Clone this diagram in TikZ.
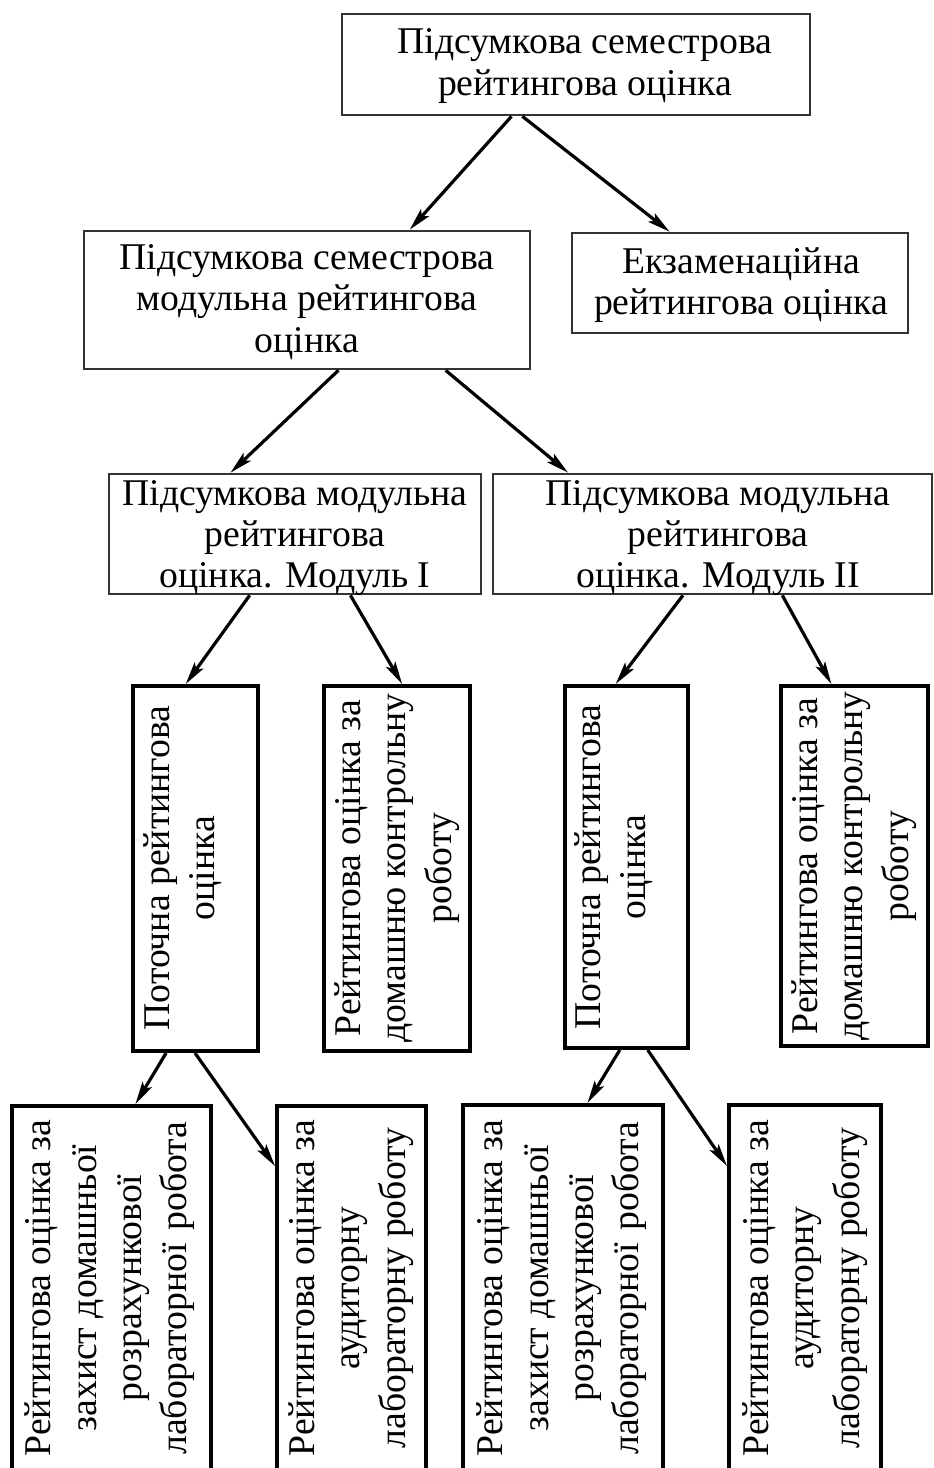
\documentclass[tikz,border=0pt]{standalone}
\usepackage{fontspec}
\setmainfont{Liberation Serif}
\usetikzlibrary{arrows.meta,fit,calc}
\begin{document}
\begin{tikzpicture}[x=0.75pt,y=-0.75pt,
  hbox/.style={draw=black!80, line width=2pt, inner sep=0pt},
  htext/.style={align=center, inner sep=0pt, font=\fontsize{28.3}{31}\selectfont},
  vbox/.style={draw=black, line width=3pt, inner sep=0pt},
  vtext/.style={rotate=90, align=center, inner sep=0pt,
    font=\fontsize{28.3}{34}\selectfont},
  arr/.style={line width=2.4pt, -{Stealth[length=17pt,width=8pt,inset=3.5pt]}}
]
\useasboundingbox (0,0) rectangle (934,1468);
\clip (0,0) rectangle (934,1468);
\fill[white] (0,0) rectangle (934,1468);

% level 1-3
\node[hbox, fit={(342,14) (810,115)}] (top) {};
\node[htext] (topt) at (585,66) {Підсумкова семестрова\\рейтингова оцінка};
\node[hbox, fit={(84,231) (530,369)}] (sem) {};
\node[htext] (semt) at (307,302) {Підсумкова семестрова\\модульна рейтингова\\оцінка};
\node[hbox, fit={(572,233) (908,333)}] (ekz) {};
\node[htext] (ekzt) at (741,285) {Екзаменаційна\\рейтингова оцінка};
\node[hbox, fit={(109,474) (481,594)}] (m1) {};
\node[htext] (m1t) at (295,538) {Підсумкова модульна\\рейтингова\\оцінка. Модуль I};
\node[hbox, fit={(493,474) (932,594)}] (m2) {};
\node[htext] (m2t) at (718,538) {Підсумкова модульна\\рейтингова\\оцінка. Модуль II};

% level 4
\node[vbox, fit={(133,686) (258,1051)}] (p1) {};
\node[vtext] (p1t) at (183,868) {Поточна рейтингова\\оцінка};
\node[vbox, fit={(324,686) (470,1051)}] (d1) {};
\node[vtext] (d1t) at (397,868) {Рейтингова оцінка за\\домашню контрольну\\роботу};
\node[vbox, fit={(565,686) (688,1048)}] (p2) {};
\node[vtext] (p2t) at (614,867) {Поточна рейтингова\\оцінка};
\node[vbox, fit={(781,686) (928,1046)}] (d2) {};
\node[vtext] (d2t) at (854,866) {Рейтингова оцінка за\\домашню контрольну\\роботу};

% level 5
\node[vbox, fit={(12,1106) (211,1475)}] (z1) {};
\node[vtext] (z1t) at (110,1288) {Рейтингова оцінка за\\захист домашньої\\розрахункової\\\makebox[250pt][s]{лабораторної робота}};
\node[vbox, fit={(277,1106) (426,1475)}] (a1) {};
\node[vtext] (a1t) at (351,1288) {Рейтингова оцінка за\\аудиторну\\лабораторну роботу};
\node[vbox, fit={(463,1105) (663,1475)}] (z2) {};
\node[vtext] (z2t) at (562,1288) {Рейтингова оцінка за\\захист домашньої\\розрахункової\\\makebox[250pt][s]{лабораторної робота}};
\node[vbox, fit={(729,1105) (881,1475)}] (a2) {};
\node[vtext] (a2t) at (805,1288) {Рейтингова оцінка за\\аудиторну\\лабораторну роботу};

% arrows
\draw[arr] ($(top.south west)!0.363!(top.south east)$) -- ($(sem.north west)!0.729!(sem.north east)$);
\draw[arr] ($(top.south west)!0.386!(top.south east)$) -- ($(ekz.north west)!0.292!(ekz.north east)$);
\draw[arr] ($(sem.south west)!0.570!(sem.south east)$) -- ($(m1.north west)!0.328!(m1.north east)$);
\draw[arr] ($(sem.south west)!0.809!(sem.south east)$) -- ($(m2.north west)!0.173!(m2.north east)$);
\draw[arr] ($(m1.south west)!0.379!(m1.south east)$) -- ($(p1.north west)!0.424!(p1.north east)$);
\draw[arr] ($(m1.south west)!0.648!(m1.south east)$) -- ($(d1.north west)!0.534!(d1.north east)$);
\draw[arr] ($(m2.south west)!0.433!(m2.south east)$) -- ($(p2.north west)!0.415!(p2.north east)$);
\draw[arr] ($(m2.south west)!0.658!(m2.south east)$) -- ($(d2.north west)!0.347!(d2.north east)$);
\draw[arr] ($(p1.south west)!0.272!(p1.south east)$) -- ($(z1.north west)!0.618!(z1.north east)$);
\draw[arr] ($(p1.south west)!0.496!(p1.south east)$) -- ($(a1.north west)+(0,62)$);
\draw[arr] ($(p2.south west)!0.447!(p2.south east)$) -- ($(z2.north west)!0.62!(z2.north east)$);
\draw[arr] ($(p2.south west)!0.667!(p2.south east)$) -- ($(a2.north west)+(0,63)$);
\end{tikzpicture}
\end{document}
